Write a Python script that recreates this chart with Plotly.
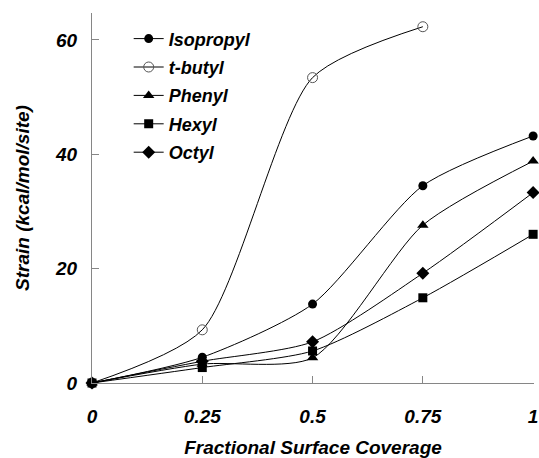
import plotly.graph_objects as go

coverage = [0, 0.25, 0.5, 0.75, 1.0]

isopropyl = [0, 4.5, 13.8, 34.5, 43.2]
t_butyl_x = [0, 0.25, 0.5, 0.75]
t_butyl = [0, 9.3, 53.4, 62.3]
phenyl = [0, 3.3, 4.4, 27.6, 38.8]
hexyl = [0, 2.7, 5.6, 14.9, 26.0]
octyl = [0, 3.8, 7.2, 19.2, 33.3]

x_ticks = [0, 0.25, 0.5, 0.75, 1]
x_tick_text = ["0", "0.25", "0.5", "0.75", "1"]
y_ticks = [0, 20, 40, 60]

FONT = "Arial, 'Liberation Sans', sans-serif"

series = [
    ("Isopropyl", coverage, isopropyl, dict(symbol="circle", size=9, color="black")),
    ("t-butyl", t_butyl_x, t_butyl, dict(symbol="circle-open", size=10, color="#555555", line=dict(width=1))),
    ("Phenyl", coverage, phenyl, dict(symbol="triangle-up", size=10, color="black")),
    ("Hexyl", coverage, hexyl, dict(symbol="square", size=9, color="black")),
    ("Octyl", coverage, octyl, dict(symbol="diamond", size=10, color="black")),
]

fig = go.Figure()
for i, (name, xs, ys, marker) in enumerate(series):
    fig.add_trace(go.Scatter(
        x=xs, y=ys, name=name, mode="lines+markers",
        line=dict(color="black", width=1, shape="spline", smoothing=0.7),
        marker=marker, cliponaxis=False, legendgroup=f"g{i}",
    ))

axis_common = dict(
    showline=True, linecolor="#868686", linewidth=1,
    ticks="inside", ticklen=7, tickcolor="#868686", tickwidth=1,
    showgrid=False, zeroline=False, automargin=False,
    tickfont=dict(family=FONT, size=19, color="black", weight="bold", style="italic"),
    title_font=dict(family=FONT, size=19, color="black", weight="bold", style="italic"),
)

fig.update_layout(
    width=539, height=458,
    margin=dict(l=92, r=5, t=13, b=75),
    paper_bgcolor="white", plot_bgcolor="white",
    showlegend=True,
    legend=dict(
        x=0.083, y=0.98, xanchor="left", yanchor="top",
        bgcolor="rgba(0,0,0,0)", traceorder="grouped", tracegroupgap=2,
        font=dict(family=FONT, size=18, color="black", weight="bold", style="italic"),
        itemwidth=30,
    ),
    xaxis=dict(
        range=[0, 1.002], tickvals=x_ticks, ticktext=x_tick_text,
        title=dict(text="Fractional Surface Coverage", standoff=16),
        ticklabelstandoff=16, **axis_common,
    ),
    yaxis=dict(
        range=[0, 64.7], tickvals=y_ticks,
        title=dict(text="Strain (kcal/mol/site)", standoff=20),
        ticklabelstandoff=10, **axis_common,
    ),
)

fig.write_html("out.html")
